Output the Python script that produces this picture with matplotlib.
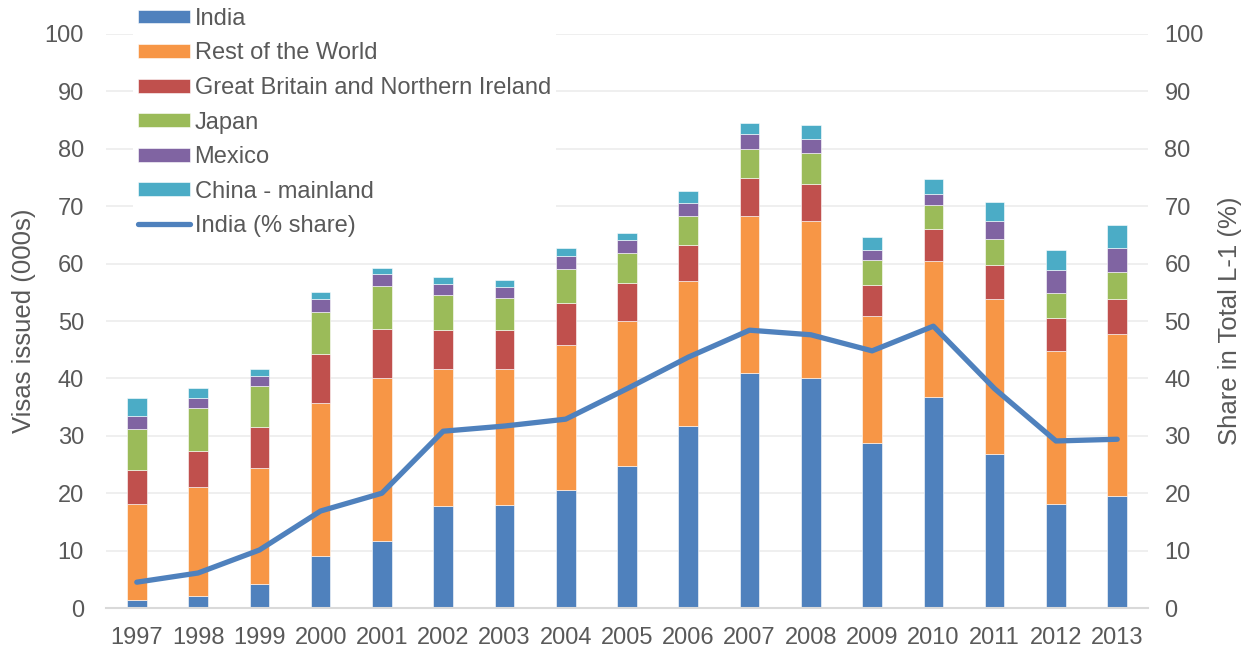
# L-1 visas issued by country, with India's share on a second axis
import numpy as np
import matplotlib.pyplot as plt

plt.rcParams['font.family'] = ['Liberation Sans', 'DejaVu Sans']

# data
years = ['1997', '1998', '1999', '2000', '2001', '2002', '2003', '2004', '2005',
         '2006', '2007', '2008', '2009', '2010', '2011', '2012', '2013']
india = [1.4, 2.1, 4.1, 9.1, 11.7, 17.7, 17.9, 20.6, 24.8, 31.7, 40.9, 40.1, 28.8, 36.7, 26.8, 18.1, 19.6]
rest_of_world = [16.7, 18.9, 20.3, 26.7, 28.3, 24.0, 23.8, 25.2, 25.2, 25.3, 27.4, 27.4, 22.0, 23.8, 27.0, 26.7, 28.1]
great_britain = [5.9, 6.3, 7.1, 8.5, 8.6, 6.7, 6.8, 7.3, 6.7, 6.3, 6.6, 6.3, 5.5, 5.6, 5.9, 5.7, 6.2]
japan = [7.1, 7.5, 7.1, 7.3, 7.5, 6.2, 5.5, 6.0, 5.2, 5.0, 5.1, 5.4, 4.4, 4.1, 4.6, 4.4, 4.7]
mexico = [2.3, 1.8, 1.8, 2.2, 2.1, 1.9, 2.0, 2.3, 2.2, 2.3, 2.5, 2.5, 1.7, 2.0, 3.2, 3.9, 4.1]
china = [3.1, 1.7, 1.3, 1.2, 1.1, 1.1, 1.1, 1.3, 1.3, 2.0, 2.0, 2.4, 2.2, 2.5, 3.2, 3.6, 4.0]
india_share = [4.5, 6.1, 10.1, 16.9, 20.0, 30.8, 31.7, 32.9, 38.2, 43.7, 48.4, 47.6, 44.8, 49.1, 38.2, 29.1, 29.4]

series = [('India', india, '#4f81bd'),
          ('Rest of the World', rest_of_world, '#f79646'),
          ('Great Britain and Northern Ireland', great_britain, '#c0504d'),
          ('Japan', japan, '#9bbb59'),
          ('Mexico', mexico, '#8064a2'),
          ('China - mainland', china, '#4bacc6')]

txt = '#595959'
x = np.arange(len(years))

fig = plt.figure(figsize=(12.49, 6.5), dpi=100)
ax = fig.add_axes([0.085, 0.0646, 0.834, 0.8831])

bottom = np.zeros(len(years))
handles = []
for name, vals, col in series:
    b = ax.bar(x, vals, width=0.32, bottom=bottom, color=col, label=name,
               edgecolor='white', linewidth=0.4, zorder=2)
    handles.append(b)
    bottom += np.array(vals)

ax.set_ylim(0, 100)
ax.set_xlim(-0.5, len(years) - 0.5)
ax.set_yticks(range(0, 101, 10))
ax.set_xticks(x)
ax.set_xticklabels(years)
ax.grid(axis='y', color='#ececec', linewidth=1.2, zorder=0)
ax.set_axisbelow(True)
ax.tick_params(length=0, labelsize=17, colors=txt)
ax.tick_params(axis='x', pad=14)
ax.tick_params(axis='y', pad=16)
ax.set_ylabel('Visas issued (000s)', fontsize=18.5, color=txt, labelpad=6)
for s in ['top', 'right', 'left']:
    ax.spines[s].set_visible(False)
ax.spines['bottom'].set_color('#d9d9d9')
ax.spines['bottom'].set_linewidth(1.5)

ax2 = ax.twinx()
line, = ax2.plot(x, india_share, color='#4f81bd', linewidth=3.8,
                 solid_capstyle='round', label='India (% share)', zorder=3)
ax2.set_ylim(0, 100)
ax2.set_yticks(range(0, 101, 10))
ax2.tick_params(length=0, labelsize=17, colors=txt, pad=12)
ax2.set_ylabel('Share in Total L-1 (%)', fontsize=18.5, color=txt, labelpad=10)
for s in ax2.spines.values():
    s.set_visible(False)

leg = ax2.legend(handles + [line], [h.get_label() for h in handles] + ['India (% share)'],
                 loc='upper left', bbox_to_anchor=(0.1066, 0.995), bbox_transform=fig.transFigure,
                 fontsize=17, frameon=True, facecolor='white', edgecolor='none', framealpha=1,
                 borderpad=0.2, labelspacing=0.53, handlelength=2.2, handleheight=0.52,
                 handletextpad=0.2, borderaxespad=0)
for t in leg.get_texts():
    t.set_color(txt)

fig.savefig('out.png', dpi=100)
